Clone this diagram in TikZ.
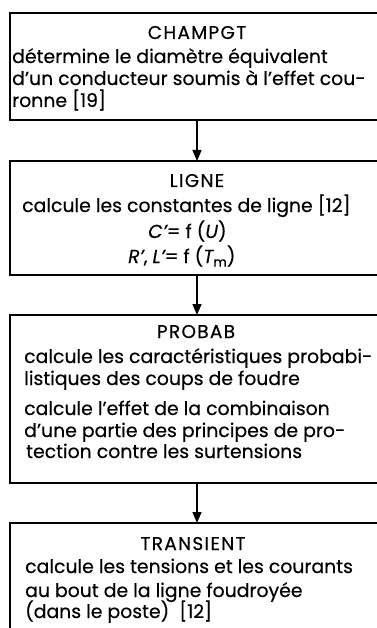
\documentclass[tikz,border=0pt]{standalone}
\usepackage{fontspec}
\setmainfont{Poppins}[FakeBold=0.4]
\usetikzlibrary{arrows.meta}
\newlength\mysumA
\newlength\mytmpw
\newcommand\addwA[1]{\settowidth\mytmpw{\normalfont\fontsize{10}{12}\selectfont #1}\global\advance\mysumA by \mytmpw}
\AtBeginDocument{%
  \global\mysumA=0pt
  \addwA{calcule les caractéristiques probabi-}%
  \addwA{détermine le diamètre équivalent}%
  \addwA{calcule les tensions et les courants}%
  \addwA{calcule les constantes de ligne [12]}%
  \pgfmathsetmacro\txtsizetmp{9.85*1340/\mysumA}\global\let\txtsize\txtsizetmp
}
\tikzset{
  boxarea/.style={rectangle, anchor=north west, inner sep=0pt, outer sep=0pt},
  boxline/.style={line width=1.3pt, line cap=rect},
  txt/.style={anchor=base west, inner sep=0pt, font=\fontsize{\txtsize}{21}\selectfont},
  ttl/.style={anchor=base, inner sep=0pt, font=\fontsize{18.5}{21}\selectfont\addfontfeature{LetterSpace=7}},
  flow/.style={line width=1.3pt, -{Triangle[width=9pt,length=11pt]}}
}
\begin{document}
\begin{tikzpicture}[x=1pt,y=-1pt]
\useasboundingbox (0,0) rectangle (376,628);
% box areas (open to the right edge)
\path node[boxarea, minimum width=366pt, minimum height=107pt] (b1) at (10,13) {};
\path node[boxarea, minimum width=366pt, minimum height=114pt] (b2) at (10,161) {};
\path node[boxarea, minimum width=366pt, minimum height=168pt] (b3) at (10,315) {};
\path node[boxarea, minimum width=366pt, minimum height=105pt] (b4) at (10,523) {};
\draw[boxline] (b1.north east) -- (b1.north west) -- (b1.south west) -- (b1.south east);
\draw[boxline] (b2.north east) -- (b2.north west) -- (b2.south west) -- (b2.south east);
\draw[boxline] (b3.north east) -- (b3.north west) -- (b3.south west) -- (b3.south east);
\draw[boxline] (b4.north east) -- (b4.north west) -- (b4.south west);
% box 1
\node[ttl] (t1) at (197,39) {CHAMPGT};
\node[txt] (l11) at (12,63) {détermine le diamètre équivalent};
\node[txt] (l12) at (12,85) {d'un conducteur soumis à l'effet cou-};
\node[txt] (l13) at (12,107) {ronne [19]};
% box 2
\node[ttl] (t2) at (197,187) {LIGNE};
\node[txt] (l21) at (22,212) {calcule les constantes de ligne [12]};
\node[txt] (l22) at (148,238) {\itshape C'\upshape= f (\itshape U\upshape)};
\node[txt] (l23) at (128,263) {\itshape R'\upshape, \itshape L'\upshape= f (\itshape T\upshape\raisebox{-0.35ex}{\fontsize{13}{14}\selectfont m})};
% box 3
\node[ttl] (t3) at (196,338) {PROBAB};
\node[txt] (l31) at (24,363) {calcule les caractéristiques probabi-};
\node[txt] (l32) at (24,385) {listiques des coups de foudre};
\node[txt] (l33) at (24,415) {calcule l'effet de la combinaison};
\node[txt] (l34) at (24,437) {d'une partie des principes de pro-};
\node[txt] (l35) at (26,458) {tection contre les surtensions};
% box 4
\node[ttl] (t4) at (193,550) {TRANSIENT};
\node[txt] (l41) at (25,573) {calcule les tensions et les courants};
\node[txt] (l42) at (25,597) {au bout de la ligne foudroyée};
\node[txt] (l43) at (25,618) {(dans le poste)\ \ [12]};
% arrows
\draw[flow] (b1.south west -| t1.base) -- (b2.north west -| t1.base);
\draw[flow] (b2.south west -| t1.base) -- (b3.north west -| t1.base);
\draw[flow] (b3.south west -| t1.base) -- (b4.north west -| t1.base);
\end{tikzpicture}
\end{document}
